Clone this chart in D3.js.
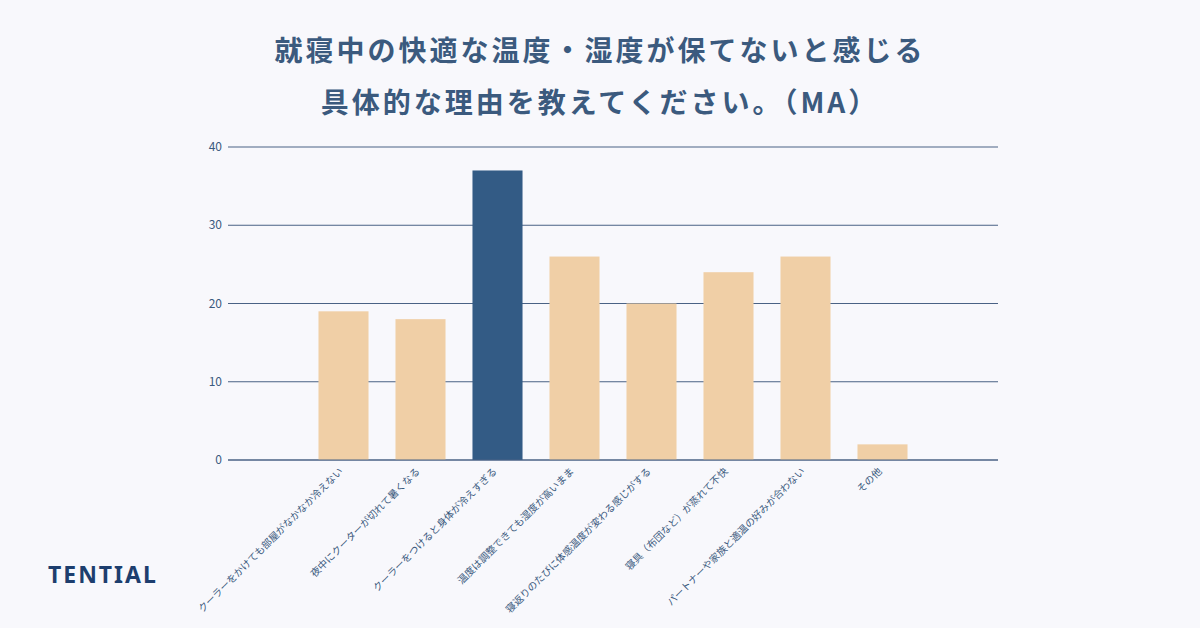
<!DOCTYPE html><html><head><meta charset="utf-8"><script src="https://cdn.jsdelivr.net/npm/d3@7"></script>
<style>body{margin:0;background:#f8f8fc}</style></head><body><svg width="1200" height="628"></svg><script>
const categories=["","クーラーをかけても部屋がなかなか冷えない","夜中にクーターが切れて暑くなる","クーラーをつけると身体が冷えすぎる","温度は調整できても湿度が高いまま","寝返りのたびに体感温度が変わる感じがする","寝具（布団など）が蒸れて不快","パートナーや家族と適温の好みが合わない","その他"," "];
const values=[null,19,18,37,26,20,24,26,2,null];
const highlight=3;
const yTicks=[0,10,20,30,40];
const titleLines=["就寝中の快適な温度・湿度が保てないと感じる","具体的な理由を教えてください。（MA）"];
const svg=d3.select("svg");const font="'Noto Sans CJK JP',sans-serif";
svg.append("rect").attr("width",1200).attr("height",628).attr("fill","#f8f8fc");
svg.selectAll("text.t").data(titleLines).join("text").attr("x",600).attr("y",(d,i)=>61+i*52).attr("text-anchor","middle")
 .attr("font-family",font).attr("font-weight",700).attr("font-size",28).attr("letter-spacing",3).attr("fill","#3b5a7e").text(d=>d);
const x=d3.scaleBand().domain(d3.range(categories.length)).range([228,998]).paddingInner(0.35).paddingOuter(0.175);
const y=d3.scaleLinear().domain([0,40]).range([460,147]);
const grid=svg.append("g");
const bars=svg.append("g");
grid.selectAll("line").data(yTicks).join("line").attr("x1",228).attr("x2",998).attr("y1",d=>y(d)).attr("y2",d=>y(d)).attr("stroke","#4a6285").attr("stroke-width",1);
svg.selectAll("text.y").data(yTicks).join("text").attr("x",222).attr("y",d=>y(d)+4).attr("text-anchor","end").attr("font-family",font).attr("font-size",12).attr("fill","#3b5a7e").text(d=>d);
bars.selectAll("rect").data(values.map((v,i)=>({v,i})).filter(d=>d.v!=null)).join("rect")
 .attr("x",d=>x(d.i)).attr("width",x.bandwidth()).attr("y",d=>y(d.v)).attr("height",d=>y(0)-y(d.v))
 .attr("fill",d=>d.i===highlight?"#335b85":"#f0cfa6");
svg.append("line").attr("x1",228).attr("x2",998).attr("y1",y(0)).attr("y2",y(0)).attr("stroke","#4a6285");
svg.selectAll("text.x").data(categories.map((c,i)=>({c,i})).filter(d=>d.c.trim())).join("text")
 .attr("transform",d=>`translate(${x(d.i)+x.bandwidth()/2},${472}) rotate(-45)`).attr("text-anchor","end")
 .attr("font-family",font).attr("font-size",10).attr("fill","#3b5a7e").text(d=>d.c);
svg.append("text").attr("x",48).attr("y",583).attr("font-family","'Noto Sans',sans-serif").attr("font-weight",700).attr("font-size",23).attr("fill","#1d3e6e").attr("letter-spacing",2).text("TENTIAL");
</script></body></html>
